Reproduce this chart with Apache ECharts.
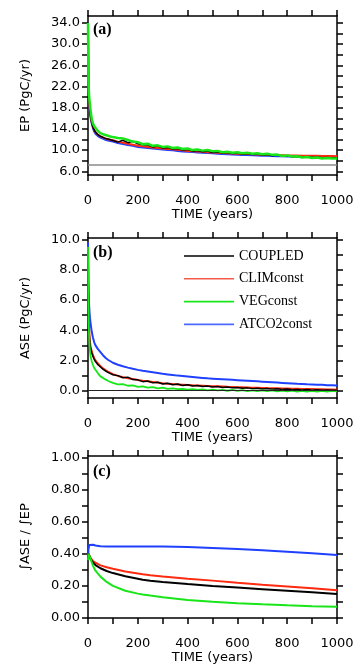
<!DOCTYPE html>
<html><head><meta charset="utf-8">
<script src="https://cdn.jsdelivr.net/npm/echarts@6/dist/echarts.min.js"></script>
<style>html,body{margin:0;padding:0;background:#fff}#c{width:360px;height:667px}</style>
</head><body><div id="c"></div>
<script>
const seriesNames = ['COUPLED','CLIMconst','VEGconst','ATCO2const'];
const years = [0,2,4,6,8,10,15,20,25,30,40,50,60,70,80,90,100,120,140,160,180,200,220,240,260,280,300,320,340,360,380,400,420,440,460,480,500,520,540,560,580,600,620,640,660,680,700,720,740,760,780,800,820,840,860,880,900,920,940,960,980,1000];

// Panel (a): EP (PgC/yr)
const epCoupled = [33.5,23.0,19.9,18.3,17.3,16.5,15.2,14.3,13.8,13.4,12.9,12.6,12.4,12.2,12.1,11.95,11.8,
 11.5,11.85,11.4,11.65,11.2, 11.0,10.95,10.6,10.75,10.4, 10.5,10.2,10.3,10.0,10.1, 9.8,9.9,9.7,9.8,9.55,
 9.65,9.45,9.55,9.35,9.45, 9.25,9.35,9.15,9.25,9.05, 9.15,8.95,9.05,8.85,8.95, 8.75,8.85,8.65,8.75,8.6, 8.65,8.55,8.6,8.5,8.55];
const epClim = [33.5,23.0,19.8,18.3,17.3,16.6,15.3,14.4,13.8,13.4,12.9,12.6,12.4,12.2,12.05,11.95,11.85,
 11.6,11.4,11.2,11.0,10.8, 10.7,10.6,10.5,10.4,10.3, 10.2,10.15,10.05,9.95,9.85, 9.8,9.75,9.7,9.6,9.55,
 9.5,9.45,9.4,9.35,9.3, 9.27,9.24,9.2,9.17,9.14, 9.11,9.08,9.05,9.03,9.0, 8.98,8.96,8.94,8.93,8.92, 8.91,8.9,8.88,8.87,8.85];
const epVeg = [34.0,23.0,20.5,19.3,18.6,17.6,15.9,15.0,14.5,14.2,13.6,13.2,13.0,12.85,12.7,12.55,12.45,
 12.3,12.2,11.9,11.6,11.5, 11.1,11.2,10.8,10.9,10.6, 10.7,10.4,10.5,10.2,10.3, 10.0,10.1,9.9,10.0,9.8,
 9.85,9.6,9.7,9.5,9.6, 9.4,9.5,9.3,9.4,9.2, 9.3,9.1,9.15,8.9,9.0, 8.8,8.85,8.6,8.7,8.5, 8.6,8.4,8.5,8.4,8.4];
const epAtco2 = [33.5,22.5,19.4,17.9,16.9,16.2,15.0,14.1,13.5,13.1,12.65,12.35,12.15,11.95,11.8,11.7,11.6,
 11.35,11.15,10.95,10.8,10.6, 10.5,10.4,10.3,10.2,10.1, 10.0,9.95,9.85,9.75,9.68, 9.62,9.56,9.5,9.44,9.38,
 9.33,9.28,9.23,9.18,9.13, 9.09,9.05,9.01,8.97,8.94, 8.91,8.88,8.85,8.82,8.8, 8.78,8.76,8.74,8.72,8.7, 8.69,8.68,8.67,8.66,8.65];

// Panel (b): ASE (PgC/yr)
const aseCoupled = [9.4,5.3,4.1,3.5,3.1,2.85,2.5,2.27,2.08,1.93,1.72,1.57,1.43,1.31,1.21,1.13,1.06,
 1.0,0.86,0.9,0.74,0.72, 0.6,0.64,0.52,0.56,0.45, 0.49,0.4,0.44,0.35,0.39, 0.31,0.35,0.28,0.31,0.25,
 0.28,0.22,0.25,0.19,0.22, 0.16,0.19,0.14,0.17,0.12, 0.15,0.1,0.13,0.08,0.11, 0.07,0.09,0.05,0.08,0.04, 0.06,0.03,0.05,0.03,0.04];
const aseClim = [9.5,5.5,4.2,3.6,3.2,2.95,2.6,2.35,2.15,2.0,1.8,1.62,1.48,1.37,1.27,1.18,1.1,
 0.98,0.9,0.83,0.77,0.71, 0.66,0.62,0.58,0.54,0.5, 0.47,0.44,0.42,0.4,0.38, 0.36,0.345,0.33,0.315,0.3,
 0.29,0.275,0.26,0.25,0.235, 0.225,0.215,0.205,0.195,0.185, 0.175,0.168,0.16,0.152,0.145, 0.138,0.13,0.122,0.115,0.108, 0.1,0.093,0.086,0.078,0.07];
const aseVeg = [9.5,5.5,3.8,3.1,2.6,2.3,1.95,1.7,1.5,1.38,1.15,0.95,0.85,0.75,0.66,0.58,0.52,
 0.42,0.44,0.33,0.36,0.26, 0.29,0.2,0.24,0.16,0.2, 0.12,0.16,0.1,0.13,0.07, 0.11,0.05,0.09,0.03,0.07,
 0.02,0.06,0.0,0.05,-0.01, 0.04,-0.02,0.03,-0.03,0.02, -0.03,0.02,-0.04,0.01,-0.04, 0.01,-0.05,0.0,-0.05,0.0, -0.05,-0.01,-0.06,-0.01,-0.04];
const aseAtco2 = [9.8,7.0,5.8,5.2,4.8,4.5,3.9,3.5,3.2,3.0,2.75,2.55,2.35,2.18,2.05,1.95,1.85,
 1.72,1.62,1.53,1.45,1.38, 1.32,1.27,1.22,1.17,1.12, 1.08,1.04,1.0,0.97,0.94, 0.91,0.88,0.85,0.82,0.8,
 0.78,0.76,0.74,0.72,0.7, 0.68,0.66,0.64,0.62,0.6, 0.58,0.56,0.54,0.52,0.5, 0.48,0.46,0.45,0.43,0.42, 0.4,0.39,0.37,0.36,0.35];

// Panel (c): integral ASE / integral EP
const yearsC = [0,2,5,10,20,30,50,75,100,150,200,220,250,300,400,500,600,700,800,900,1000];
const fracCoupled = [0.36,0.40,0.40,0.37,0.345,0.33,0.31,0.293,0.28,0.26,0.245,0.238,0.232,0.225,0.212,0.2,0.19,0.18,0.17,0.16,0.15];
const fracClim = [0.37,0.40,0.40,0.375,0.355,0.345,0.328,0.316,0.307,0.29,0.278,0.273,0.266,0.258,0.245,0.233,0.22,0.208,0.197,0.185,0.173];
const fracVeg = [0.36,0.40,0.40,0.37,0.325,0.295,0.258,0.225,0.2,0.17,0.152,0.147,0.14,0.13,0.112,0.101,0.092,0.085,0.079,0.074,0.07];
const fracAtco2 = [0.37,0.43,0.455,0.463,0.457,0.452,0.448,0.446,0.445,0.445,0.446,0.446,0.446,0.445,0.442,0.437,0.43,0.422,0.413,0.403,0.393];

// reference lines
const epRefLine = 7.2;
const aseZeroLine = 0;

// ticks and labels
const xTicks = [0,100,200,300,400,500,600,700,800,900,1000];
const xLabels = [0,200,400,600,800,1000];
const epTicks = [6,8,10,12,14,16,18,20,22,24,26,28,30,32,34];
const epLabels = [6,10,14,18,22,26,30,34];
const aseTicks = [0,1,2,3,4,5,6,7,8,9,10];
const aseLabels = [0,2,4,6,8,10];
const fracTicks = [0,0.1,0.2,0.3,0.4,0.5,0.6,0.7,0.8,0.9,1.0];
const fracLabels = [0,0.2,0.4,0.6,0.8,1.0];

const FONT = 'DejaVu Sans';
const COLORS = {COUPLED:'#000000', CLIMconst:'#ff2a10', VEGconst:'#18e618', ATCO2const:'#2040ff'};
const LEGEND_COLORS = {COUPLED:'#000000', CLIMconst:'#f25a48', VEGconst:'#18e618', ATCO2const:'#4a6aff'};

const grids = [
  {left:88, top:16, width:249, height:159},
  {left:88, top:238, width:249, height:160},
  {left:88, top:456, width:249, height:162}
];
const axLine = {show:true, onZero:false, lineStyle:{color:'#000', width:1.5}};
const txt = {fontFamily:FONT, fontSize:13, color:'#000'};

const xAxis = [], yAxis = [];
const yDefs = [
  {min:5.3, max:35.3, ticks:epTicks, labels:epLabels, dec:1, name:'EP (PgC/yr)'},
  {min:-0.48, max:10.1, ticks:aseTicks, labels:aseLabels, dec:1, name:'ASE (PgC/yr)'},
  {min:0, max:1.01, ticks:fracTicks, labels:fracLabels, dec:2, name:'\u222BASE / \u222BEP'}
];
yDefs.forEach((d, gi) => {
  xAxis.push({gridIndex:gi, type:'value', min:0, max:1000, position:'bottom', axisLine:axLine,
    axisTick:{show:true, length:6, customValues:xTicks, lineStyle:{color:'#000', width:1.5}},
    axisLabel:{show:true, customValues:xLabels, margin:19, formatter:v=>String(Math.round(v)), ...txt},
    splitLine:{show:false}, name:'TIME (years)', nameLocation:'middle', nameGap:32, nameTextStyle:txt});
  xAxis.push({gridIndex:gi, type:'value', min:0, max:1000, position:'top', axisLine:axLine,
    axisTick:{show:true, length:6, customValues:xTicks, lineStyle:{color:'#000', width:1.5}},
    axisLabel:{show:false}, splitLine:{show:false}});
  yAxis.push({gridIndex:gi, type:'value', min:d.min, max:d.max, position:'left', axisLine:axLine,
    axisTick:{show:true, length:6, customValues:d.ticks, lineStyle:{color:'#000', width:1.5}},
    axisLabel:{show:true, customValues:d.labels, margin:8, formatter:v=>Number(v).toFixed(d.dec), ...txt},
    splitLine:{show:false}, name:d.name, nameLocation:'middle', nameGap:56, nameTextStyle:txt});
  yAxis.push({gridIndex:gi, type:'value', min:d.min, max:d.max, position:'right', axisLine:axLine,
    axisTick:{show:true, length:6, customValues:d.ticks, lineStyle:{color:'#000', width:1.5}},
    axisLabel:{show:false}, splitLine:{show:false}});
});

function pairs(xs, ys){ return xs.map((t,i)=>[t, ys[i]]); }
function mk(gi, name, xs, ys, width, extra){
  return Object.assign({type:'line', name, xAxisIndex:2*gi, yAxisIndex:2*gi, data:pairs(xs, ys),
    symbol:'none', showSymbol:false, clip:true, animation:false,
    lineStyle:{color:COLORS[name], width}, itemStyle:{color:COLORS[name]}}, extra||{});
}
const refMark = (v, color, w) => ({silent:true, symbol:'none', label:{show:false}, animation:false,
  lineStyle:{color, width:w, type:'solid'}, data:[{yAxis:v}]});

const series = [
  mk(0,'ATCO2const', years, epAtco2, 2, {markLine:refMark(epRefLine, '#8a8a8a', 1.5)}),
  mk(0,'CLIMconst', years, epClim, 2),
  mk(0,'COUPLED', years, epCoupled, 1.5),
  mk(0,'VEGconst', years, epVeg, 2.5),
  mk(1,'ATCO2const', years, aseAtco2, 2, {markLine:refMark(aseZeroLine, '#222', 1)}),
  mk(1,'CLIMconst', years, aseClim, 2),
  mk(1,'COUPLED', years, aseCoupled, 1.5),
  mk(1,'VEGconst', years, aseVeg, 1.8),
  mk(2,'ATCO2const', yearsC, fracAtco2, 2),
  mk(2,'CLIMconst', yearsC, fracClim, 2),
  mk(2,'COUPLED', yearsC, fracCoupled, 2),
  mk(2,'VEGconst', yearsC, fracVeg, 2)
];

const chart = echarts.init(document.getElementById('c'), null, {renderer:'canvas'});
chart.setOption({
  animation:false,
  backgroundColor:'#fff',
  grid:grids,
  xAxis, yAxis, series,
  legend:{show:true, orient:'vertical', left:179, top:243, itemWidth:50, itemHeight:1.6, itemGap:6.8,
    selectedMode:false, icon:'rect',
    data:seriesNames.map(n=>({name:n, icon:'rect', itemStyle:{color:LEGEND_COLORS[n], borderWidth:0}})),
    textStyle:{fontFamily:'Liberation Serif', fontSize:14, lineHeight:16, color:'#000'}},
  graphic:[
    {type:'text', left:93, top:22, style:{text:'(a)', font:'bold 16px "Liberation Serif"', fill:'#000'}},
    {type:'text', left:93, top:245, style:{text:'(b)', font:'bold 16px "Liberation Serif"', fill:'#000'}},
    {type:'text', left:93, top:464, style:{text:'(c)', font:'bold 16px "Liberation Serif"', fill:'#000'}}
  ]
});
</script></body></html>
